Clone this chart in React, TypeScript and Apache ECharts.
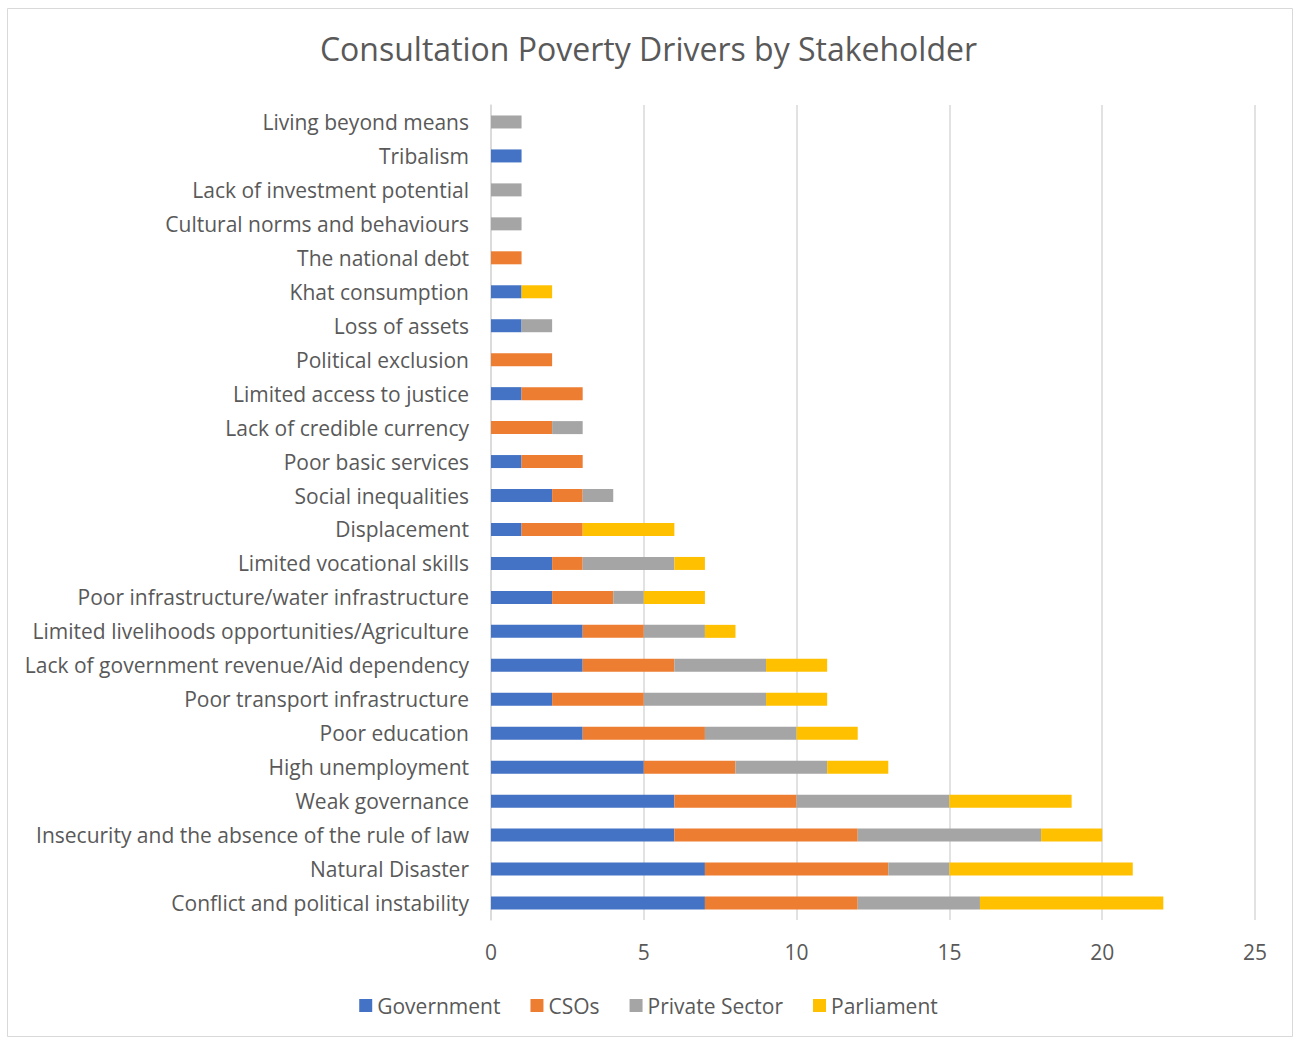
import React, { useEffect, useRef } from "react";
import * as echarts from "echarts";

const categories = [
  "Conflict and political instability",
  "Natural Disaster",
  "Insecurity and the absence of the rule of law",
  "Weak governance",
  "High unemployment",
  "Poor education",
  "Poor transport infrastructure",
  "Lack of government revenue/Aid dependency",
  "Limited livelihoods opportunities/Agriculture",
  "Poor infrastructure/water infrastructure",
  "Limited vocational skills",
  "Displacement",
  "Social inequalities",
  "Poor basic services",
  "Lack of credible currency",
  "Limited access to justice",
  "Political exclusion",
  "Loss of assets",
  "Khat consumption",
  "The national debt",
  "Cultural norms and behaviours",
  "Lack of investment potential",
  "Tribalism",
  "Living beyond means",
];

const government = [7, 7, 6, 6, 5, 3, 2, 3, 3, 2, 2, 1, 2, 1, 0, 1, 0, 1, 1, 0, 0, 0, 1, 0];
const csos = [5, 6, 6, 4, 3, 4, 3, 3, 2, 2, 1, 2, 1, 2, 2, 2, 2, 0, 0, 1, 0, 0, 0, 0];
const privateSector = [4, 2, 6, 5, 3, 3, 4, 3, 2, 1, 3, 0, 1, 0, 1, 0, 0, 1, 0, 0, 1, 1, 0, 1];
const parliament = [6, 6, 2, 4, 2, 2, 2, 2, 1, 2, 1, 3, 0, 0, 0, 0, 0, 0, 1, 0, 0, 0, 0, 0];

const seriesNames = ["Government", "CSOs", "Private Sector", "Parliament"];
const seriesColors = ["#4472C4", "#ED7D31", "#A5A5A5", "#FFC000"];
const seriesData = [government, csos, privateSector, parliament];

const FONT = "'Open Sans', sans-serif";

export default function App() {
  const ref = useRef<HTMLDivElement>(null);
  useEffect(() => {
    document.body.style.margin = "0";
    if (!ref.current) return;
    const chart = echarts.init(ref.current, null, { renderer: "svg" });
    chart.setOption({
      animation: false,
      backgroundColor: "#ffffff",
      title: {
        text: "Consultation Poverty Drivers by Stakeholder",
        left: "center",
        top: 27,
        textStyle: { fontFamily: FONT, fontSize: 32, fontWeight: "normal", color: "#595959" },
      },
      graphic: [
        {
          type: "rect",
          shape: { x: 7.5, y: 8.5, width: 1285, height: 1028 },
          style: { fill: "none", stroke: "#d9d9d9", lineWidth: 1 },
          silent: true,
        },
      ],
      legend: {
        top: 990,
        left: "center",
        itemWidth: 13,
        itemHeight: 13,
        itemGap: 30,
        icon: "rect",
        textStyle: { fontFamily: FONT, fontSize: 21, color: "#595959" },
        data: seriesNames,
      },
      grid: { left: 491, right: 42, top: 105, bottom: 119, containLabel: false },
      xAxis: {
        type: "value",
        min: 0,
        max: 25,
        interval: 5,
        axisLine: { show: false },
        axisTick: { show: false },
        splitLine: { lineStyle: { color: "#d9d9d9", width: 1.5 } },
        axisLabel: { fontFamily: FONT, fontSize: 21, color: "#595959", margin: 21 },
      },
      yAxis: {
        type: "category",
        data: categories,
        axisLine: { show: true, lineStyle: { color: "#d9d9d9", width: 1.5 } },
        axisTick: { show: false },
        axisLabel: { fontFamily: FONT, fontSize: 21, color: "#595959", margin: 22 },
      },
      series: seriesNames.map((name, i) => ({
        name,
        type: "bar",
        stack: "total",
        barWidth: 13,
        itemStyle: { color: seriesColors[i] },
        data: seriesData[i],
      })),
    });
    return () => chart.dispose();
  }, []);
  return <div ref={ref} style={{ width: 1297, height: 1039 }} />;
}
